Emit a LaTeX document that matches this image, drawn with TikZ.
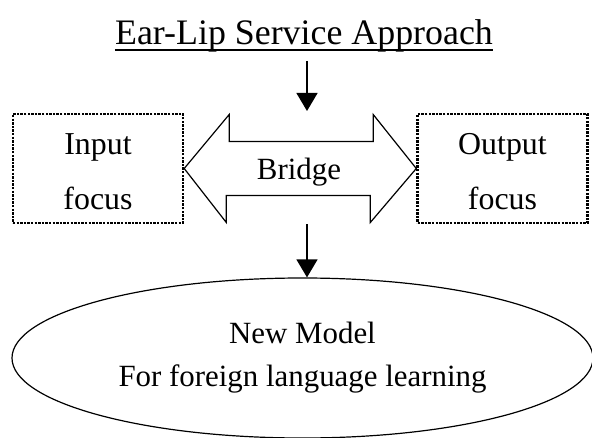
\documentclass[tikz,border=0pt]{standalone}
\usepackage{fontspec}
\setmainfont{Liberation Serif}
\usetikzlibrary{arrows.meta,shapes.geometric}
\tikzset{focusbox/.style={draw,line width=2.4bp,dash pattern=on 2.4bp off 1.2bp,minimum width=170bp,
    minimum height=109bp,align=center,font=\fontsize{32}{55}\selectfont},
  flow/.style={-{Triangle[length=18bp,width=21bp]},line width=1.3bp},
  model/.style={ellipse,draw,line width=1.2bp,minimum width=581bp,minimum height=160bp,
    inner sep=0pt,align=center,font=\fontsize{31}{43}\selectfont}}

\begin{document}
\begin{tikzpicture}[x=1bp,y=-1bp]
  \path[use as bounding box] (0,0) rectangle (592,438);
  \node[inner sep=0pt,anchor=base,font=\fontsize{36}{40}\selectfont] (title) at (304,45) {Ear-Lip Service Approach};
  \draw[line width=2bp] ([yshift=-5.5bp]title.base west) -- ([yshift=-5.5bp]title.base east);
  \node[focusbox] (input) at (98,168.5) {\rule{0pt}{27bp}Input\\focus};
  \node[focusbox] (output) at (502.5,168.5) {\rule{0pt}{27bp}Output\\focus};
  % bridge arrow between the two boxes
  \node[font=\fontsize{31}{36}\selectfont] (bridge) at (299,172) {Bridge};
  \draw[line width=1.2bp,line join=miter] (input.east) -- ++(45,-54) -- ++(0,27) -- ++(144,0) -- ++(0,-27)
    -- (output.west) -- ++(-46,54) -- ++(0,-27) -- ++(-144,0) -- ++(0,27) -- cycle;
  \coordinate (join) at (307,111);
  \node[model] (model) at (302.5,358) {New Model\\For foreign language learning};
  \draw[flow] ([yshift=-8bp]title.south -| join) -- (join);
  \draw[flow] (join |- input.south) -- (model.north -| join);
\end{tikzpicture}
\end{document}
